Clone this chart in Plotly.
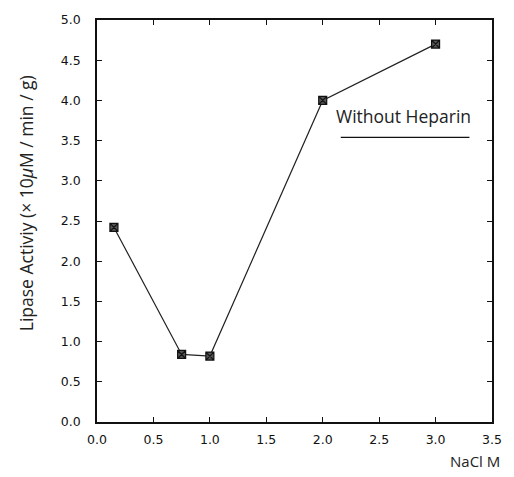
import plotly.graph_objects as go

nacl = [0.15, 0.75, 1.0, 2.0, 3.0]
activity = [2.42, 0.84, 0.82, 4.0, 4.7]
x_ticks = [0.0, 0.5, 1.0, 1.5, 2.0, 2.5, 3.0, 3.5]
y_ticks = [0.0, 0.5, 1.0, 1.5, 2.0, 2.5, 3.0, 3.5, 4.0, 4.5, 5.0]
series_name = "Without Heparin"
y_title = "Lipase Activiy (× 10<i>μ</i>M / min / g)"
x_title = "NaCl M"

fig = go.Figure()
fig.add_trace(go.Scatter(
    x=nacl, y=activity, mode="lines+markers",
    line=dict(color="#222", width=1.2),
    marker=dict(symbol="square-x", size=8, color="#555",
                line=dict(color="#111", width=1.2)),
    showlegend=False,
))

tick_font = "'DejaVu Sans', sans-serif"
text_font = "'Open Sans', Lato, sans-serif"
axis_common = dict(showline=True, linecolor="#111", linewidth=1.5, mirror="ticks",
                   ticks="inside", ticklen=5, tickcolor="#111", tickwidth=1,
                   showgrid=False, zeroline=False,
                   tickfont=dict(family=tick_font, size=12.5, color="#111"))

fig.update_xaxes(range=[0, 3.5], tickvals=x_ticks, ticklabelstandoff=5,
                 ticktext=[f"{v:.1f}" for v in x_ticks], **axis_common)
fig.update_yaxes(range=[0, 5], tickvals=y_ticks, ticklabelstandoff=12,
                 ticktext=[f"{v:.1f}" for v in y_ticks], **axis_common)

fig.add_annotation(x=-0.18, y=0.544, xref="paper", yref="paper", text=y_title,
                   textangle=-90, showarrow=False, xanchor="center", yanchor="middle",
                   font=dict(family=text_font, size=17.5, color="#222"))
fig.add_annotation(x=2.72, y=3.8, xref="x", yref="y", text=series_name,
                   showarrow=False, font=dict(family=text_font, size=17.5, color="#222"))
fig.add_shape(type="line", xref="x", yref="y", x0=2.16, x1=3.3, y0=3.54, y1=3.54,
              line=dict(color="#111", width=1.3))
fig.add_annotation(x=1.025, y=-0.128, xref="paper", yref="paper", xanchor="right",
                   yanchor="bottom", text=x_title, showarrow=False,
                   font=dict(family=text_font, size=15, color="#222"))

fig.update_layout(width=514, height=477, margin=dict(l=97, r=22, t=14, b=55),
                  paper_bgcolor="white", plot_bgcolor="white")
fig.write_html("out.html")
